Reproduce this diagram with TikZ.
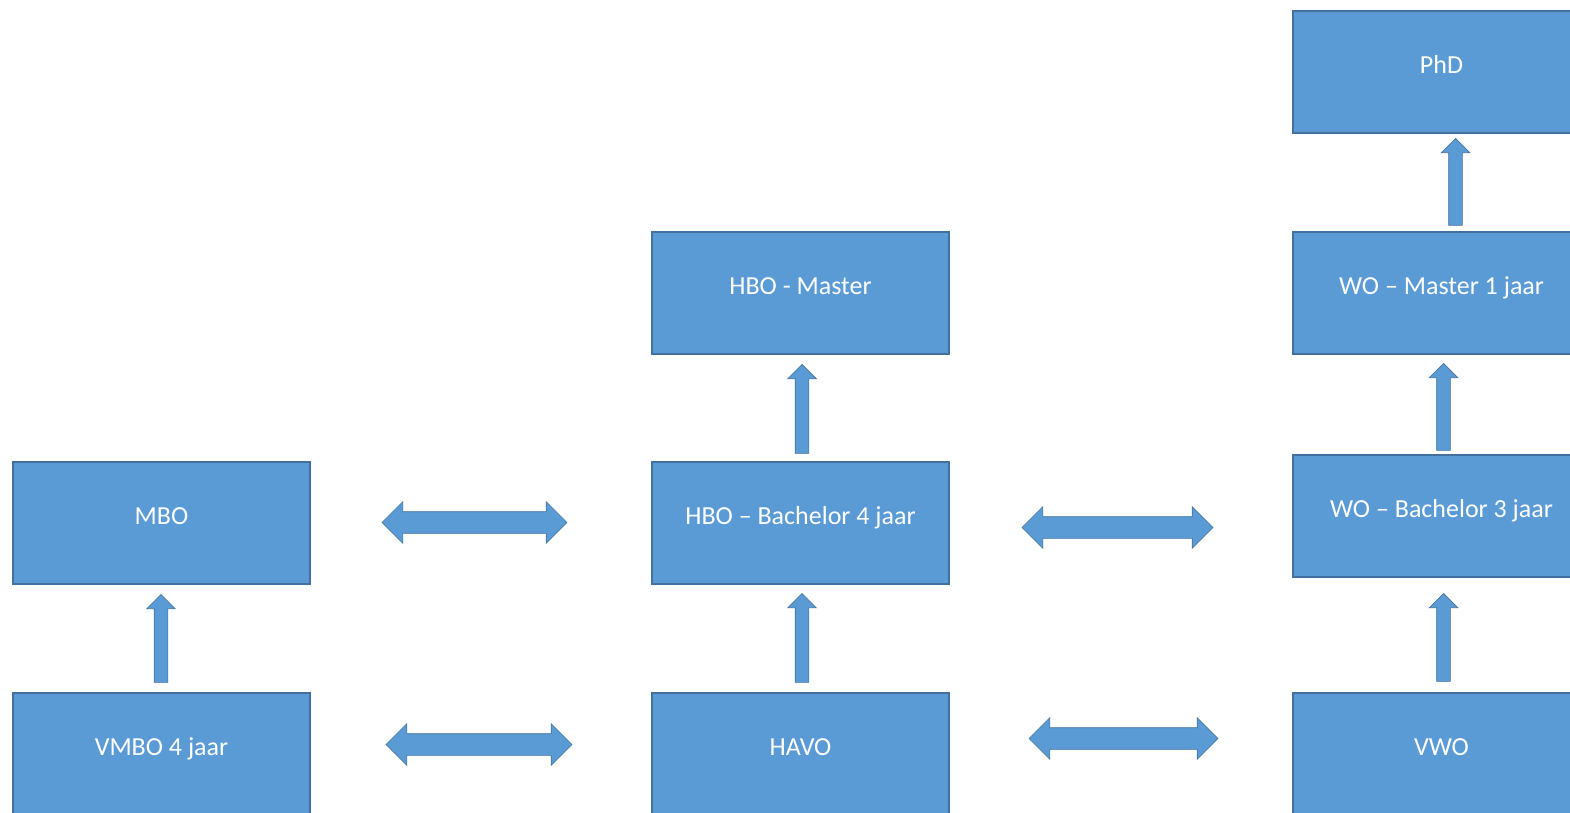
\documentclass[tikz,border=0pt]{standalone}
\usepackage{fontspec}
\setmainfont{Carlito}
\usetikzlibrary{shapes.arrows}
\definecolor{boxfill}{RGB}{91,155,213}
\definecolor{boxline}{RGB}{65,113,156}
\tikzset{
  box/.style={rectangle, draw=boxline, fill=boxfill, line width=1.2pt,
    minimum width=297pt, minimum height=122pt, inner sep=0pt},
  lbl/.style={text=white, font=\fontsize{26}{30}\selectfont, inner sep=0pt,
    text height=17pt, text depth=0pt},
  uparrow/.style={single arrow, draw=boxline, fill=boxfill, line width=0.6pt,
    shape border rotate=90, minimum width=28pt, single arrow head extend=7.5pt,
    single arrow tip angle=90, inner xsep=6.5pt, inner ysep=0pt, anchor=tip},
  dblarrow/.style={double arrow, draw=boxline, fill=boxfill, line width=0.6pt,
    minimum width=41pt, double arrow head extend=10pt,
    double arrow tip angle=90, inner xsep=0pt, inner ysep=10.5pt},
}
\begin{document}
\begin{tikzpicture}[x=1pt,y=-1pt]
\useasboundingbox (0,0) rectangle (1570,812);
\clip (0,0) rectangle (1570,812);
% boxes
\node[box] (phd)  at (1441.5,72) {};
\node[box] (hbom) at (800.5,293) {};
\node[box] (wom)  at (1441.5,293) {};
\node[box] (mbo)  at (161.5,523) {};
\node[box] (hbob) at (800.5,523) {};
\node[box] (wob)  at (1441.5,516) {};
\node[box] (vmbo) at (161.5,754) {};
\node[box] (havo) at (800.5,754) {};
\node[box] (vwo)  at (1441.5,754) {};
% labels
\node[lbl] (tphd)  at ([yshift=7pt]phd.center)  {PhD};
\node[lbl] (thbom) at ([yshift=7pt]hbom.center) {HBO - Master};
\node[lbl] (twom)  at ([yshift=7pt]wom.center)  {WO – Master 1 jaar};
\node[lbl] (tmbo)  at ([yshift=7pt]mbo.center)  {MBO};
\node[lbl] (thbob) at ([yshift=7pt]hbob.center) {HBO – Bachelor 4 jaar};
\node[lbl] (twob)  at ([yshift=7pt]wob.center)  {WO – Bachelor 3 jaar};
\node[lbl] (tvmbo) at ([yshift=7pt]vmbo.center) {VMBO 4 jaar};
\node[lbl] (thavo) at ([yshift=7pt]havo.center) {HAVO};
\node[lbl] (tvwo)  at ([yshift=7pt]vwo.center)  {VWO};
% vertical arrows (placed by their tips)
\node[uparrow, minimum height=88pt] (v1) at (161,594) {};
\node[uparrow, minimum height=89pt] (v2) at (802,593) {};
\node[uparrow, minimum height=89pt] (v3) at (802,364) {};
\node[uparrow, minimum height=88pt] (v4) at (1443.5,593) {};
\node[uparrow, minimum height=87pt] (v5) at (1443.5,363) {};
\node[uparrow, minimum height=87pt] (v6) at (1455.5,138) {};
% horizontal double arrows
\node[dblarrow, minimum height=185pt] (h1) at (474.5,522.5) {};
\node[dblarrow, minimum height=186pt] (h2) at (479,744.5) {};
\node[dblarrow, minimum height=191pt] (h3) at (1117.5,527.5) {};
\node[dblarrow, minimum height=189pt] (h4) at (1123.5,738.5) {};
\end{tikzpicture}
\end{document}
